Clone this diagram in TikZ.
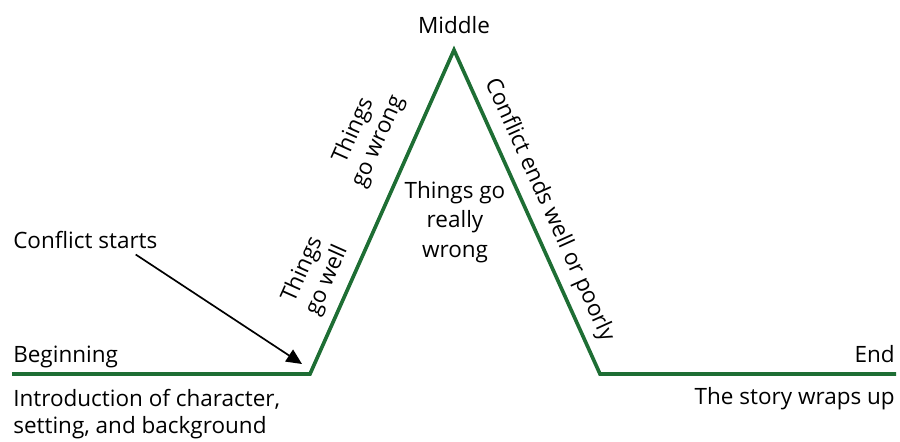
\documentclass[tikz,border=0pt]{standalone}
\usepackage{fontspec}
\setmainfont{Open Sans}
\usetikzlibrary{arrows.meta}
\definecolor{plotgreen}{RGB}{30,110,52}
\tikzstyle{plotline} = [line width=2.6pt, draw=plotgreen, line join=miter]
\tikzstyle{lbl} = [inner sep=0pt, font=\fontsize{16}{19}\selectfont]
\tikzstyle{slope} = [lbl, align=center, font=\fontsize{16}{19}\selectfont]
\tikzstyle{arrow} = [line width=1.2pt,-{Triangle[length=11pt,width=10pt]}]

\begin{document}
\begin{tikzpicture}[x=0.025cm, y=-0.025cm]
        \useasboundingbox (0,0) rectangle (900,441);
        \coordinate (beg) at (12,374);
        \coordinate (rise) at (310,374);
        \coordinate (peak) at (454,50);
        \coordinate (fall) at (600,374);
        \coordinate (fin) at (896,374);
        \coordinate (tip) at (302,364);

        \draw [plotline] (beg) -- (rise) -- (peak) -- (fall) -- (fin);

        \node (middle) [lbl, anchor=base] at (454,33) {Middle};
        \node (beginning) [lbl, anchor=base west] at (13,362) {Beginning};
        \node (intro) [lbl, anchor=base west, align=left] at (13,433) {Introduction of character,\\setting, and background};
        \node (end) [lbl, anchor=base east] at (895,362) {End};
        \node (wrap) [lbl, anchor=base east] at (895,404) {The story wraps up};
        \node (cstart) [lbl, anchor=base west] at (13,248) {Conflict starts};
        \node (wrong) [lbl, align=center, font=\fontsize{16}{21}\selectfont] at (455,222) {Things go\\really\\wrong};
        \node (well) [slope, rotate=66] at (315,275) {Things\\go well};
        \node (gowrong) [slope, rotate=66] at (366,136) {Things\\go wrong};
        \node (ends) [lbl, rotate=-65.7] at (549,210) {Conflict ends well or poorly};

        \draw [arrow] ([xshift=-0.55cm,yshift=-0.15cm]cstart.south east) -- (tip);
    \end{tikzpicture}
\end{document}
